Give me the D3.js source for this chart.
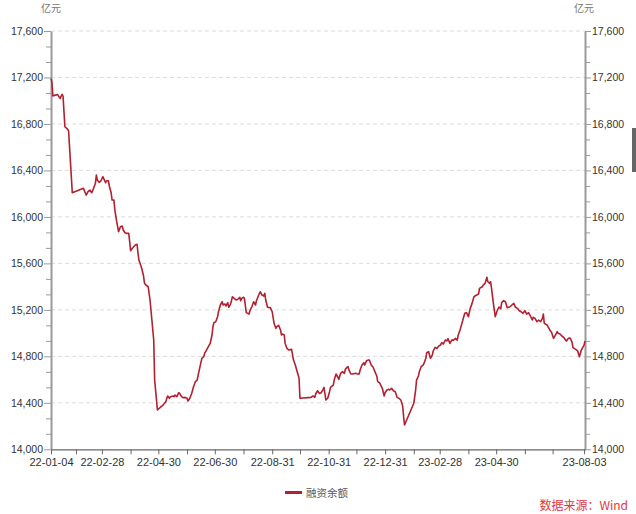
<!DOCTYPE html>
<html><head><meta charset="utf-8">
<script src="https://cdn.jsdelivr.net/npm/d3@7"></script>
<style>
body{margin:0;background:#fff;}
svg{display:block;font-family:"Liberation Sans",Arial,"Noto Sans CJK SC",sans-serif;}
</style>
</head><body>
<svg id="chart" width="636" height="514"></svg>
<script>
// ---- data ----
const dates = [
"2022-01-04","2022-01-05","2022-01-06","2022-01-08","2022-01-11","2022-01-12","2022-01-14","2022-01-15","2022-01-16","2022-01-17",
"2022-01-19","2022-01-21","2022-01-23","2022-01-27","2022-02-08","2022-02-11","2022-02-13","2022-02-15","2022-02-17","2022-02-19",
"2022-02-21","2022-02-22","2022-02-23","2022-02-25","2022-02-27","2022-03-01","2022-03-02","2022-03-04","2022-03-05","2022-03-07",
"2022-03-08","2022-03-10","2022-03-11","2022-03-13","2022-03-14","2022-03-16","2022-03-18","2022-03-20","2022-03-22","2022-03-23",
"2022-03-25","2022-03-27","2022-03-29","2022-03-30","2022-03-31","2022-04-02","2022-04-05","2022-04-07","2022-04-08","2022-04-09",
"2022-04-12","2022-04-14","2022-04-15","2022-04-17","2022-04-19","2022-04-21","2022-04-23","2022-04-25","2022-04-26","2022-04-29",
"2022-05-03","2022-05-05","2022-05-06","2022-05-08","2022-05-10","2022-05-12","2022-05-13","2022-05-16","2022-05-17","2022-05-18",
"2022-05-20","2022-05-22","2022-05-23","2022-05-25","2022-05-27","2022-05-29","2022-05-31","2022-06-01","2022-06-03","2022-06-05",
"2022-06-07","2022-06-09","2022-06-11","2022-06-12","2022-06-14","2022-06-16","2022-06-18","2022-06-19","2022-06-21","2022-06-23",
"2022-06-25","2022-06-27","2022-06-28","2022-06-29","2022-07-01","2022-07-03","2022-07-04","2022-07-06","2022-07-08","2022-07-09",
"2022-07-11","2022-07-12","2022-07-14","2022-07-15","2022-07-17","2022-07-18","2022-07-19","2022-07-21","2022-07-23","2022-07-25",
"2022-07-27","2022-07-28","2022-07-29","2022-07-31","2022-08-01","2022-08-03","2022-08-06","2022-08-07","2022-08-09","2022-08-11",
"2022-08-13","2022-08-14","2022-08-16","2022-08-18","2022-08-20","2022-08-22","2022-08-23","2022-08-24","2022-08-26","2022-08-29",
"2022-08-31","2022-09-02","2022-09-04","2022-09-05","2022-09-07","2022-09-09","2022-09-10","2022-09-11","2022-09-13","2022-09-14",
"2022-09-16","2022-09-18","2022-09-21","2022-09-23","2022-09-25","2022-09-27","2022-09-29","2022-09-30","2022-10-12","2022-10-14",
"2022-10-16","2022-10-17","2022-10-19","2022-10-21","2022-10-23","2022-10-25","2022-10-26","2022-10-28","2022-10-30","2022-11-01",
"2022-11-02","2022-11-05","2022-11-06","2022-11-08","2022-11-10","2022-11-11","2022-11-13","2022-11-15","2022-11-17","2022-11-18",
"2022-11-20","2022-11-21","2022-11-22","2022-11-24","2022-11-26","2022-11-29","2022-12-01","2022-12-03","2022-12-04","2022-12-06",
"2022-12-08","2022-12-09","2022-12-11","2022-12-13","2022-12-14","2022-12-16","2022-12-18","2022-12-20","2022-12-22","2022-12-23",
"2022-12-25","2022-12-28","2022-12-30","2022-12-31","2023-01-02","2023-01-04","2023-01-05","2023-01-07","2023-01-09","2023-01-11",
"2023-01-13","2023-01-15","2023-01-17","2023-01-19","2023-01-20","2023-01-21","2023-01-31","2023-02-02","2023-02-03","2023-02-05",
"2023-02-06","2023-02-08","2023-02-10","2023-02-11","2023-02-13","2023-02-14","2023-02-16","2023-02-18","2023-02-20","2023-02-21",
"2023-02-23","2023-02-25","2023-02-27","2023-03-01","2023-03-02","2023-03-04","2023-03-06","2023-03-08","2023-03-09","2023-03-11",
"2023-03-13","2023-03-15","2023-03-17","2023-03-19","2023-03-20","2023-03-22","2023-03-24","2023-03-26","2023-03-27","2023-03-29",
"2023-03-31","2023-04-02","2023-04-04","2023-04-06","2023-04-07","2023-04-09","2023-04-11","2023-04-12","2023-04-15","2023-04-16",
"2023-04-18","2023-04-20","2023-04-21","2023-04-23","2023-04-24","2023-04-25","2023-04-27","2023-04-29","2023-05-01","2023-05-03",
"2023-05-05","2023-05-06","2023-05-08","2023-05-10","2023-05-12","2023-05-15","2023-05-17","2023-05-19","2023-05-21","2023-05-23",
"2023-05-25","2023-05-27","2023-05-29","2023-05-31","2023-06-02","2023-06-04","2023-06-06","2023-06-08","2023-06-09","2023-06-11",
"2023-06-13","2023-06-15","2023-06-17","2023-06-19","2023-06-20","2023-06-21","2023-06-24","2023-06-25","2023-06-27","2023-06-29",
"2023-07-01","2023-07-03","2023-07-05","2023-07-06","2023-07-08","2023-07-10","2023-07-12","2023-07-14","2023-07-15","2023-07-17",
"2023-07-19","2023-07-21","2023-07-22","2023-07-25","2023-07-27","2023-07-28","2023-07-29","2023-07-31","2023-08-03","2023-08-04"
];
const balance = [
17190,17160,17040,17046,17054,17040,17020,17040,17054,17040,
16776,16762,16742,16208,16246,16188,16217,16231,16208,16246,
16289,16361,16318,16298,16311,16346,16329,16294,16311,16311,
16266,16208,16145,16145,16059,15959,15873,15916,15922,15887,
15864,15858,15858,15787,15709,15730,15758,15764,15687,15629,
15558,15491,15429,15411,15399,15285,15113,14941,14596,14338,
14367,14381,14390,14410,14459,14439,14453,14459,14453,14467,
14453,14487,14481,14453,14444,14447,14439,14416,14439,14481,
14538,14582,14596,14639,14711,14783,14797,14825,14854,14883,
14911,14984,15055,15090,15098,15141,15184,15242,15270,15242,
15250,15233,15262,15222,15250,15279,15313,15299,15285,15291,
15308,15279,15299,15308,15299,15176,15164,15193,15227,15270,
15242,15279,15319,15356,15328,15319,15342,15285,15222,15219,
15184,15084,15041,15055,15067,15027,14984,14992,14984,14911,
14868,14854,14860,14768,14725,14668,14614,14439,14447,14459,
14447,14476,14504,14481,14487,14516,14533,14424,14439,14496,
14533,14553,14596,14648,14620,14602,14654,14668,14654,14688,
14706,14711,14682,14648,14648,14654,14648,14648,14682,14725,
14745,14725,14763,14768,14768,14725,14706,14668,14631,14582,
14573,14525,14459,14487,14510,14516,14510,14525,14504,14496,
14447,14439,14424,14373,14281,14209,14396,14510,14596,14631,
14668,14711,14725,14739,14783,14831,14840,14783,14811,14846,
14877,14868,14889,14897,14917,14906,14940,14934,14952,14911,
14940,14940,14955,14940,14983,15027,15084,15141,15170,15176,
15141,15213,15256,15313,15319,15328,15336,15385,15399,15413,
15428,15480,15442,15428,15442,15385,15256,15141,15190,15225,
15210,15262,15279,15270,15219,15227,15242,15256,15222,15213,
15193,15184,15170,15193,15164,15176,15147,15113,15136,15127,
15098,15113,15098,15127,15164,15084,15070,15055,15027,15004,
14955,14983,15012,14998,14992,14975,14963,14940,14932,14955,
14958,14923,14875,14860,14848,14820,14796,14854,14897,14932
];
const yTickValues = [14000,14400,14800,15200,15600,16000,16400,16800,17200,17600];
const xTickDates = ["2022-01-04","2022-01-31","2022-02-28","2022-03-31","2022-04-30","2022-05-31","2022-06-30",
  "2022-07-31","2022-08-31","2022-09-30","2022-10-31","2022-11-30","2022-12-31","2023-01-31","2023-02-28",
  "2023-03-31","2023-04-30","2023-05-31","2023-06-30","2023-08-03"];
const xLabelDates = ["2022-01-04","2022-02-28","2022-04-30","2022-06-30","2022-08-31","2022-10-31",
  "2022-12-31","2023-02-28","2023-04-30","2023-08-03"];
const seriesName = "融资余额";
const unitLabel = "亿元";
const sourceText = "数据来源：Wind";

// ---- drawing ----
const parse = d3.timeParse("%Y-%m-%d");
const fmt = d3.timeFormat("%y-%m-%d");
const data = dates.map((d, i) => ({date: parse(d), value: balance[i]}));

const L = 51, R = 585, T = 31, B = 449.3;
const lineColor = "#b3202f";
const svg = d3.select("#chart");

const x = d3.scaleTime().domain([parse("2022-01-04"), parse("2023-08-04")]).range([L, R]);
const y = d3.scaleLinear().domain([14000, 17600]).range([B, T]);

// gridlines
svg.append("g").selectAll("line").data(yTickValues.slice(1)).join("line")
  .attr("x1", L).attr("x2", R).attr("y1", d => y(d)).attr("y2", d => y(d))
  .attr("stroke", "#dcdcdc").attr("stroke-width", 1).attr("stroke-dasharray", "4,3");

// minor y ticks (three divisions per major step)
const minorY = [];
for (let i = 0; i < yTickValues.length - 1; i++) {
  const a = yTickValues[i], b = yTickValues[i + 1];
  minorY.push(a + (b - a) / 3, a + 2 * (b - a) / 3);
}

function styleYAxis(g) {
  g.select(".domain").attr("stroke", "#9a9a9a").attr("stroke-width", 2);
  g.selectAll(".tick line").attr("stroke", "#9a9a9a").attr("stroke-width", 1);
  g.selectAll("text").attr("fill", "#333").attr("font-size", "10.5px");
}

// left axis
svg.append("g").attr("transform", `translate(${L},0)`)
  .call(d3.axisLeft(y).tickValues(minorY).tickSize(5).tickFormat("").tickSizeOuter(0))
  .call(g => g.select(".domain").remove())
  .call(g => g.selectAll(".tick line").attr("stroke", "#9a9a9a"));
svg.append("g").attr("transform", `translate(${L},0)`)
  .call(d3.axisLeft(y).tickValues(yTickValues).tickSize(7).tickPadding(1).tickFormat(d3.format(",")).tickSizeOuter(0))
  .call(styleYAxis);

// right axis
svg.append("g").attr("transform", `translate(${R},0)`)
  .call(d3.axisRight(y).tickValues(minorY).tickSize(5).tickFormat("").tickSizeOuter(0))
  .call(g => g.select(".domain").remove())
  .call(g => g.selectAll(".tick line").attr("stroke", "#9a9a9a"));
svg.append("g").attr("transform", `translate(${R},0)`)
  .call(d3.axisRight(y).tickValues(yTickValues).tickSize(6).tickPadding(1).tickFormat(d3.format(",")).tickSizeOuter(0))
  .call(styleYAxis);

// bottom axis
const labelSet = new Set(xLabelDates);
svg.append("g").attr("transform", `translate(0,${B})`)
  .call(d3.axisBottom(x).tickValues(xTickDates.map(parse)).tickSize(5).tickPadding(4).tickSizeOuter(0)
    .tickFormat(d => labelSet.has(d3.timeFormat("%Y-%m-%d")(d)) ? fmt(d) : ""))
  .call(g => {
    g.select(".domain").attr("stroke", "#666").attr("stroke-width", 1.2);
    g.selectAll(".tick line").attr("stroke", "#666");
    g.selectAll("text").attr("fill", "#333").attr("font-size", "11px");
  });

// unit labels
svg.append("text").attr("x", L).attr("y", 12).attr("text-anchor", "middle")
  .attr("font-size", "10px").attr("fill", "#777")
  .attr("font-family", "'Noto Sans CJK SC',sans-serif").text(unitLabel);
svg.append("text").attr("x", R - 1).attr("y", 12).attr("text-anchor", "middle")
  .attr("font-size", "10px").attr("fill", "#777")
  .attr("font-family", "'Noto Sans CJK SC',sans-serif").text(unitLabel);

// line
const line = d3.line().x(d => x(d.date)).y(d => y(d.value));
svg.append("path").datum(data).attr("d", line)
  .attr("fill", "none").attr("stroke", lineColor).attr("stroke-width", 1.6)
  .attr("stroke-linejoin", "round");

// legend
svg.append("line").attr("x1", 285).attr("x2", 302).attr("y1", 492.5).attr("y2", 492.5)
  .attr("stroke", lineColor).attr("stroke-width", 3);
svg.append("text").attr("x", 306).attr("y", 496.5).attr("font-size", "10.5px").attr("fill", "#555")
  .attr("font-family", "'Noto Sans CJK SC',sans-serif").text(seriesName);

// source
svg.append("text").attr("x", 628).attr("y", 510).attr("text-anchor", "end")
  .attr("font-size", "12px").attr("fill", "#e0393c")
  .attr("font-family", "'Noto Sans CJK SC',sans-serif").text(sourceText);

// edge artifact seen at the right border of the reference
svg.append("rect").attr("x", 632).attr("y", 128).attr("width", 4).attr("height", 44).attr("fill", "#666");
</script>
</body></html>
